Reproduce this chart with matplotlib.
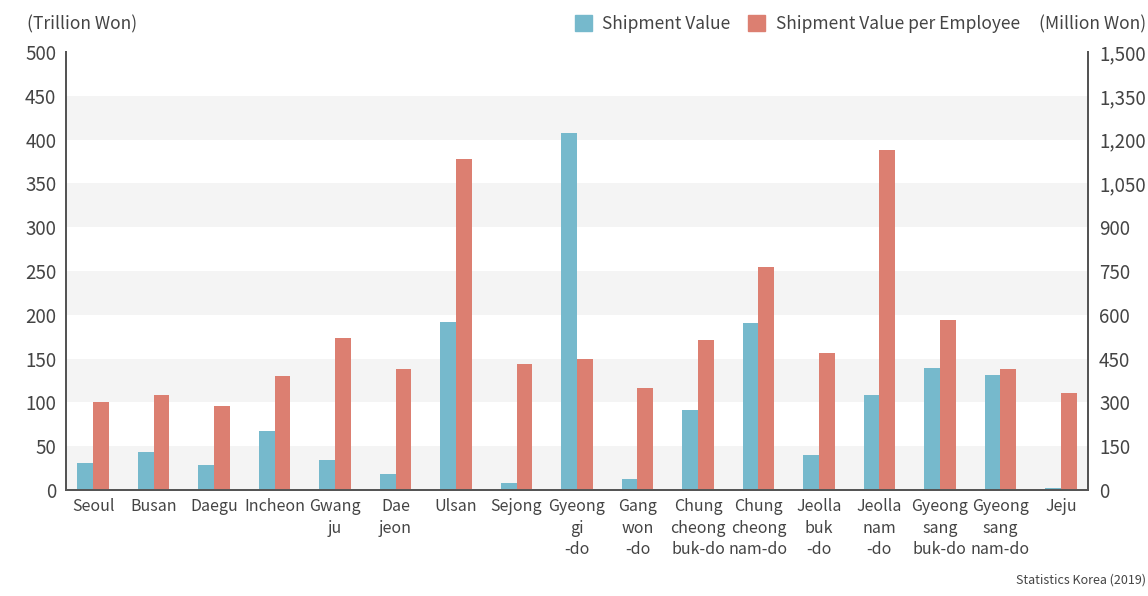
import matplotlib
matplotlib.use("Agg")
import matplotlib.pyplot as plt
import numpy as np
from matplotlib.patches import Patch

plt.rcParams['font.family'] = ['Noto Sans CJK KR', 'DejaVu Sans']

regions = ["Seoul", "Busan", "Daegu", "Incheon", "Gwang\nju", "Dae\njeon", "Ulsan",
           "Sejong", "Gyeong\ngi\n-do", "Gang\nwon\n-do", "Chung\ncheong\nbuk-do",
           "Chung\ncheong\nnam-do", "Jeolla\nbuk\n-do", "Jeolla\nnam\n-do",
           "Gyeong\nsang\nbuk-do", "Gyeong\nsang\nnam-do", "Jeju"]
shipment_value = [31, 43, 29, 67, 34, 18, 192, 8, 407, 13, 91, 191, 40, 109, 139, 131, 2]
value_per_employee = [300, 324, 286, 389, 522, 413, 1132, 430, 447, 351, 512, 762,
                      468, 1166, 581, 413, 333]
left_ticks = [0, 50, 100, 150, 200, 250, 300, 350, 400, 450, 500]
right_ticks = [0, 150, 300, 450, 600, 750, 900, 1050, 1200, 1350, 1500]

BLUE = '#76b9cc'
RED = '#dc7f71'
TXT = '#444444'
AX = '#555555'

W, H = 1148, 596
fig = plt.figure(figsize=(W / 100, H / 100), dpi=100)
L, R, B, T = 66, 1088, 490, 52
ax = fig.add_axes([L / W, 1 - B / H, (R - L) / W, (B - T) / H])
ax2 = ax.twinx()

x = np.arange(len(regions))
bw = 0.26
ax.bar(x - bw / 2, shipment_value, width=bw, color=BLUE, zorder=2)
ax2.bar(x + bw / 2, value_per_employee, width=bw, color=RED, zorder=2)

for lo in range(0, 500, 100):
    ax.axhspan(lo, lo + 50, color='#f4f4f4', zorder=0, lw=0)

ax.set_xlim(-0.45, len(regions) - 0.55)
ax.set_ylim(0, 500)
ax2.set_ylim(0, 1500)

ax.set_yticks(left_ticks)
ax.set_yticklabels([str(v) for v in left_ticks], fontsize=13.5, color=TXT)
ax2.set_yticks(right_ticks)
ax2.set_yticklabels([f"{v:,}" for v in right_ticks], fontsize=13.5, color=TXT)
ax.tick_params(axis='y', length=0, pad=7)
ax2.tick_params(axis='y', length=0, pad=8)

ax.set_xticks(x)
ax.set_xticklabels(regions, fontsize=11.5, color=TXT, linespacing=1.35)
ax.tick_params(axis='x', length=0, pad=6)
ax2.set_xticks(x)
ax2.tick_params(axis='x', bottom=True, labelbottom=False, direction='in',
                length=6, width=1.2, color='#222222')

for a in (ax, ax2):
    a.spines['top'].set_visible(False)
    for s in ('left', 'right', 'bottom'):
        a.spines[s].set_color(AX)
        a.spines[s].set_linewidth(1.4)

fig.text(27 / W, 1 - 24 / H, "(Trillion Won)", fontsize=12.5, color=TXT, va='center', ha='left')
fig.text(1146 / W, 1 - 24 / H, "(Million Won)", fontsize=12.5, color=TXT, va='center', ha='right')

handles = [Patch(color=BLUE, label="Shipment Value"),
           Patch(color=RED, label="Shipment Value per Employee")]
fig.legend(handles=handles, loc='center right', bbox_to_anchor=(1020 / W, 1 - 24 / H),
           ncol=2, frameon=False, fontsize=12.5, labelcolor=TXT,
           handlelength=1.0, handleheight=1.0, handletextpad=0.6, columnspacing=1.0,
           borderpad=0, borderaxespad=0)

fig.text(1146 / W, 1 - 580 / H, "Statistics Korea (2019)", fontsize=9, color=TXT,
         ha='right', va='center', fontstretch='condensed')

fig.savefig("out.png", dpi=100)
